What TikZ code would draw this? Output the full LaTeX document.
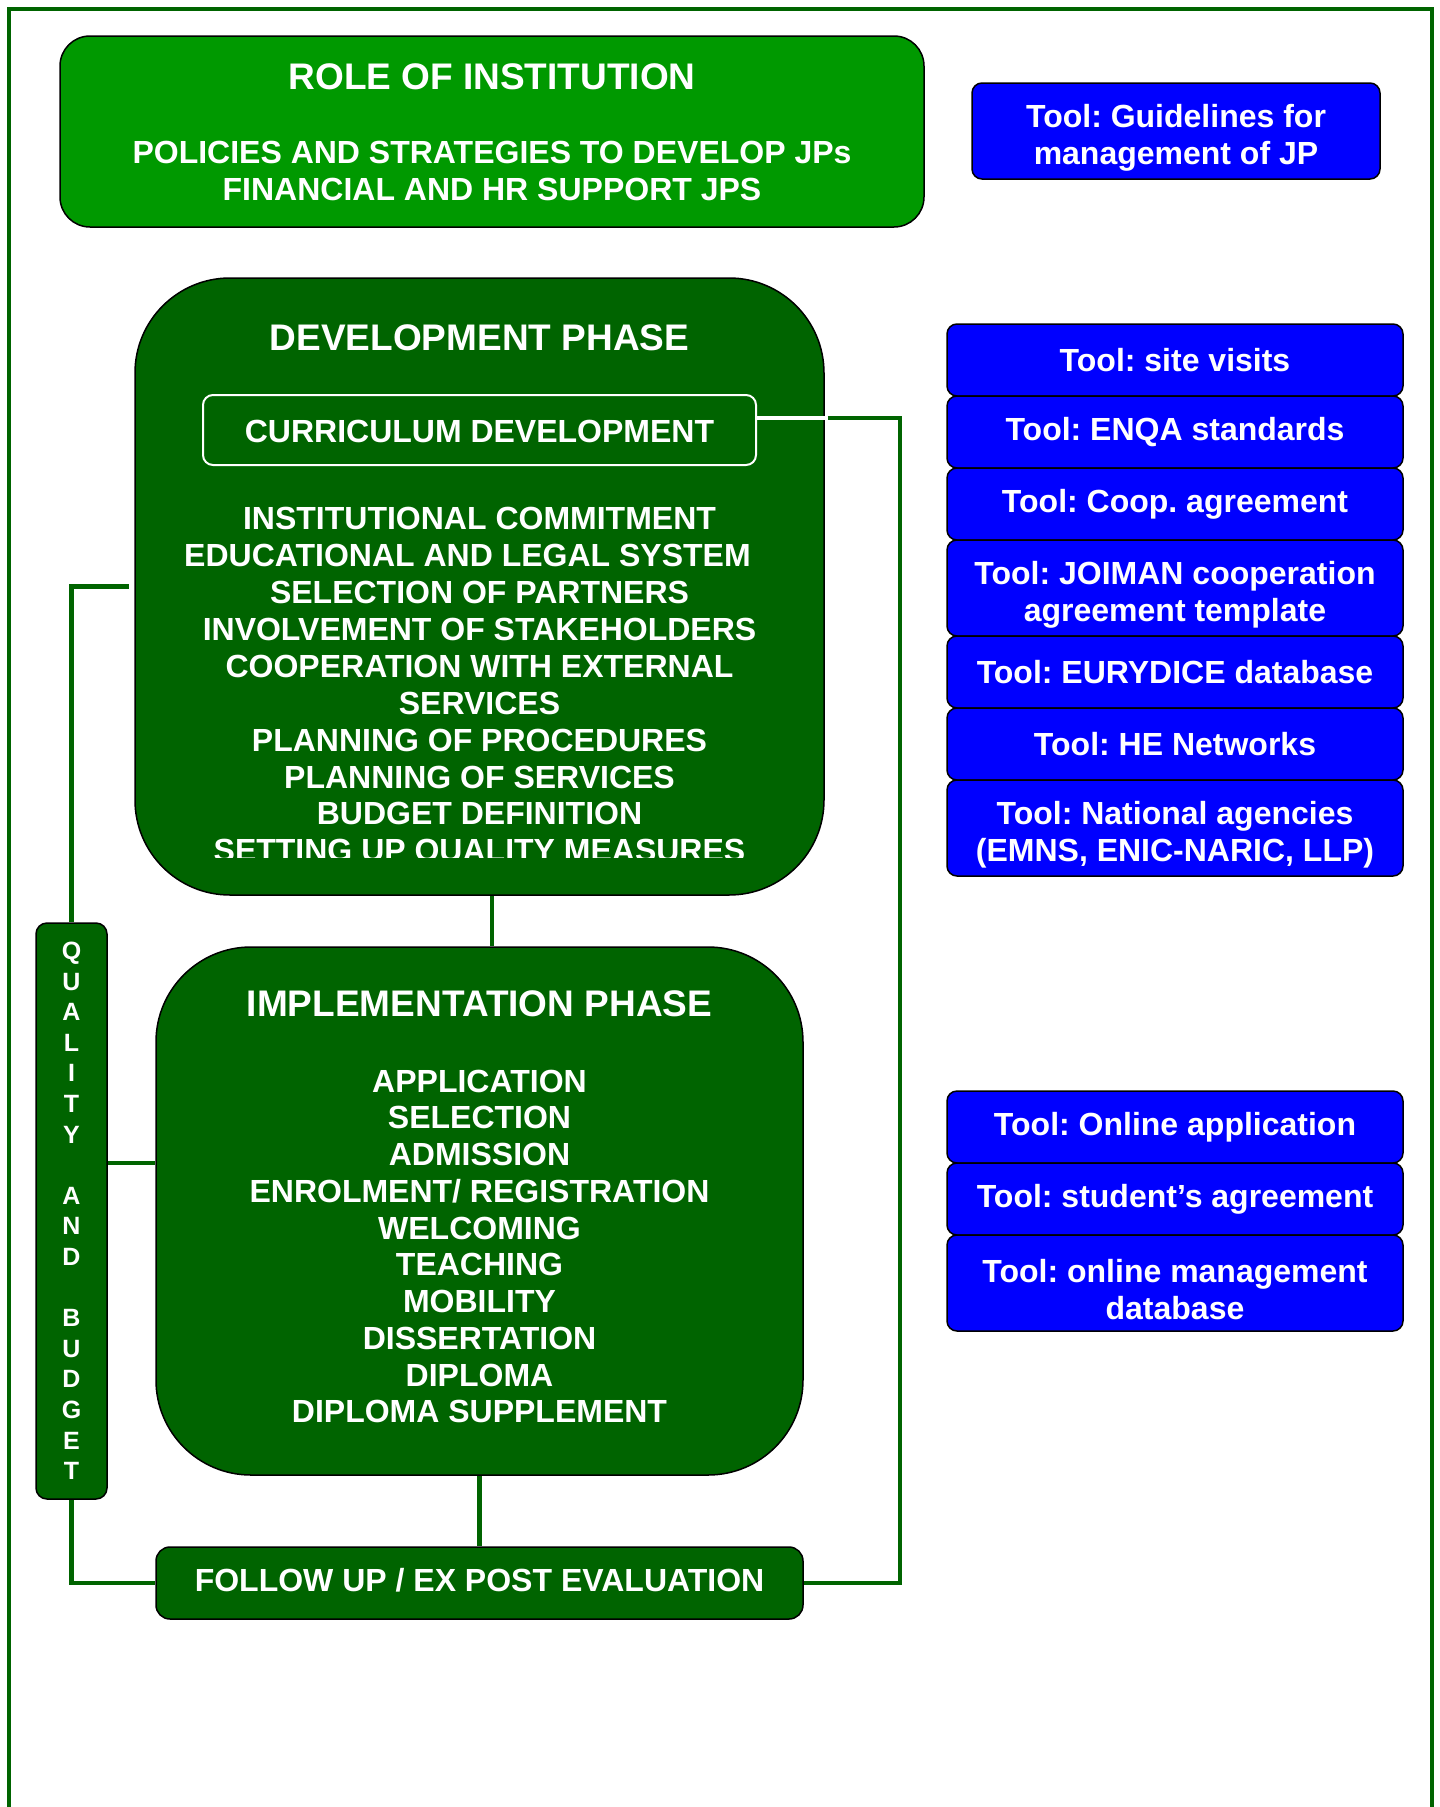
\documentclass[tikz,border=0pt]{standalone}
\usepackage{fontspec}
\setmainfont{Liberation Sans}
\frenchspacing
\usetikzlibrary{positioning}
\definecolor{cRole}{RGB}{0,153,0}
\definecolor{cPhase}{RGB}{0,100,0}
\definecolor{cTool}{RGB}{0,0,255}
\newcommand\lowstrut{\rule{0pt}{37pt}}
\tikzset{
	rolebox/.style ={rectangle, rounded corners=30pt, draw=black, line width=1.5pt, fill=cRole},
	phasebox/.style={rectangle, rounded corners=95pt, draw=black, line width=1.5pt, fill=cPhase},
	stepbox/.style ={rectangle, rounded corners=14pt, draw=black, line width=1.5pt, fill=cPhase},
	currbox/.style ={rectangle, rounded corners=10pt, draw=white, line width=2pt},
	toolbox/.style ={rectangle, rounded corners=10pt, draw=black, line width=1.5pt, fill=cTool, text=white, align=center,
		font=\fontsize{32}{37}\selectfont\bfseries, minimum width=456pt, minimum height=72pt, inner sep=2pt, outer sep=0pt},
	titletxt/.style={text=white, anchor=base, inner sep=0pt, font=\fontsize{37}{44}\selectfont\bfseries},
	bodytxt/.style ={text=white, anchor=base, inner sep=0pt, font=\fontsize{32}{37}\selectfont\bfseries},
	lettertxt/.style={text=white, anchor=base, inner sep=0pt, font=\fontsize{25}{30}\selectfont\bfseries},
	linkline/.style={draw=cPhase, line width=4.5pt},
	frame/.style   ={draw=cPhase, line width=4.5pt},
}
\begin{document}
\begin{tikzpicture}[x=1pt, y=-1pt]
	\useasboundingbox (0,0) rectangle (1440,1807);
	\draw[frame] (9,1815) |- (1432,9) -- (1432,1815);
	% role of institution
	\node[rolebox, minimum width=864pt, minimum height=191pt] (role) at (492,131.5) {};
	\node[titletxt] (roletitle) at (492,89.2) {ROLE OF INSTITUTION};
	\node[bodytxt] (rolepol) at (492,163.5) {POLICIES AND STRATEGIES TO DEVELOP JPs};
	\node[bodytxt] (rolefin) at (492,200.5) {FINANCIAL AND HR SUPPORT JPS};
	\node[toolbox, minimum width=408pt, minimum height=96pt] (guide) at (1176,131) {\lowstrut Tool: Guidelines for\\management of JP};
	% development phase
	\node[phasebox, minimum width=689pt, minimum height=617pt] (dev) at (479.5,586.5) {};
	\node[titletxt] (devtitle) at (479.5,350.7) {DEVELOPMENT PHASE};
	\node[currbox, minimum width=553pt, minimum height=70pt] (curr) at (479.5,430) {};
	\node[bodytxt] (currtxt) at (479.5,442.5) {CURRICULUM DEVELOPMENT};
	\begin{scope}
		\clip (135,278) rectangle (824,857.5);
		\foreach \t/\dx [count=\i from 0] in {INSTITUTIONAL COMMITMENT/0, EDUCATIONAL AND LEGAL SYSTEM/-12,
			SELECTION OF PARTNERS/0, INVOLVEMENT OF STAKEHOLDERS/0, COOPERATION WITH EXTERNAL/0, SERVICES/0,
			PLANNING OF PROCEDURES/0, PLANNING OF SERVICES/0, BUDGET DEFINITION/0, SETTING UP QUALITY MEASURES/0}
		\node[bodytxt] (dev-\i) at (479.5+\dx,529.9+36.87*\i) {\t};
	\end{scope}
	% implementation phase
	\node[phasebox, minimum width=647pt, minimum height=528pt] (impl) at (479.5,1211) {};
	\node[titletxt] (impltitle) at (479.5,1016.6) {IMPLEMENTATION PHASE};
	\foreach \t [count=\i from 0] in {APPLICATION, SELECTION, ADMISSION, ENROLMENT/ REGISTRATION, WELCOMING,
		TEACHING, MOBILITY, DISSERTATION, DIPLOMA, DIPLOMA SUPPLEMENT}
	\node[bodytxt] (impl-\i) at (479.5,1092.1+36.75*\i) {\t};
	% follow up
	\node[stepbox, minimum width=647pt, minimum height=72pt] (follow) at (479.5,1583) {};
	\node[bodytxt] (followtxt) at (479.5,1591) {FOLLOW UP / EX POST EVALUATION};
	% quality and budget
	\node[stepbox, rounded corners=11pt, minimum width=71pt, minimum height=576pt] (qual) at (71.5,1211) {};
	\foreach \c/\k in {Q/0,U/1,A/2,L/3,I/4,T/5,Y/6,A/8,N/9,D/10,B/12,U/13,D/14,G/15,E/16,T/17}
	\node[lettertxt] (qual-\k) at (71.5,959.4+30.6*\k) {\c};
	% tools
	\node[toolbox] (tsite) at (1175,360) {Tool: site visits};
	\node[toolbox, below=0pt of tsite] (tenqa) {Tool: ENQA standards};
	\node[toolbox, below=0pt of tenqa] (tcoop) {Tool: Coop. agreement};
	\node[toolbox, minimum height=96pt, below=0pt of tcoop] (tjoiman) {\lowstrut Tool: JOIMAN cooperation\\agreement template};
	\node[toolbox, below=0pt of tjoiman] (teury) {Tool: EURYDICE database};
	\node[toolbox, below=0pt of teury] (thenet) {Tool: HE Networks};
	\node[toolbox, minimum height=96pt, below=0pt of thenet] (tnat) {\lowstrut Tool: National agencies\\(EMNS, ENIC-NARIC, LLP)};
	\node[toolbox] (tonline) at (1175,1127) {Tool: Online application};
	\node[toolbox, below=0pt of tonline] (tstud) {Tool: student’s agreement};
	\node[toolbox, minimum height=96pt, below=0pt of tstud] (tmgmt) {\lowstrut Tool: online management\\database};
	% connectors
	\coordinate (cdY) at (0,418);
	\coordinate (rX) at (900,0);
	\coordinate (diX) at (492,0);
	\coordinate (qiY) at (0,1163);
	\draw[white, line width=4.5pt] (curr.east |- cdY) -- (dev.east |- cdY);
	\draw[linkline] ([xshift=3pt]dev.east |- cdY) -| (rX |- follow.east) -- (follow.east);
	\draw[linkline] (dev.south -| diX) -- (impl.north -| diX);
	\draw[linkline] (impl.south) -- (follow.north);
	\draw[linkline] (qual.north) |- ([xshift=-5pt]dev.west);
	\draw[linkline] (qual.east |- qiY) -- (impl.west |- qiY);
	\draw[linkline] (qual.south) |- (follow.west);
\end{tikzpicture}
\end{document}
